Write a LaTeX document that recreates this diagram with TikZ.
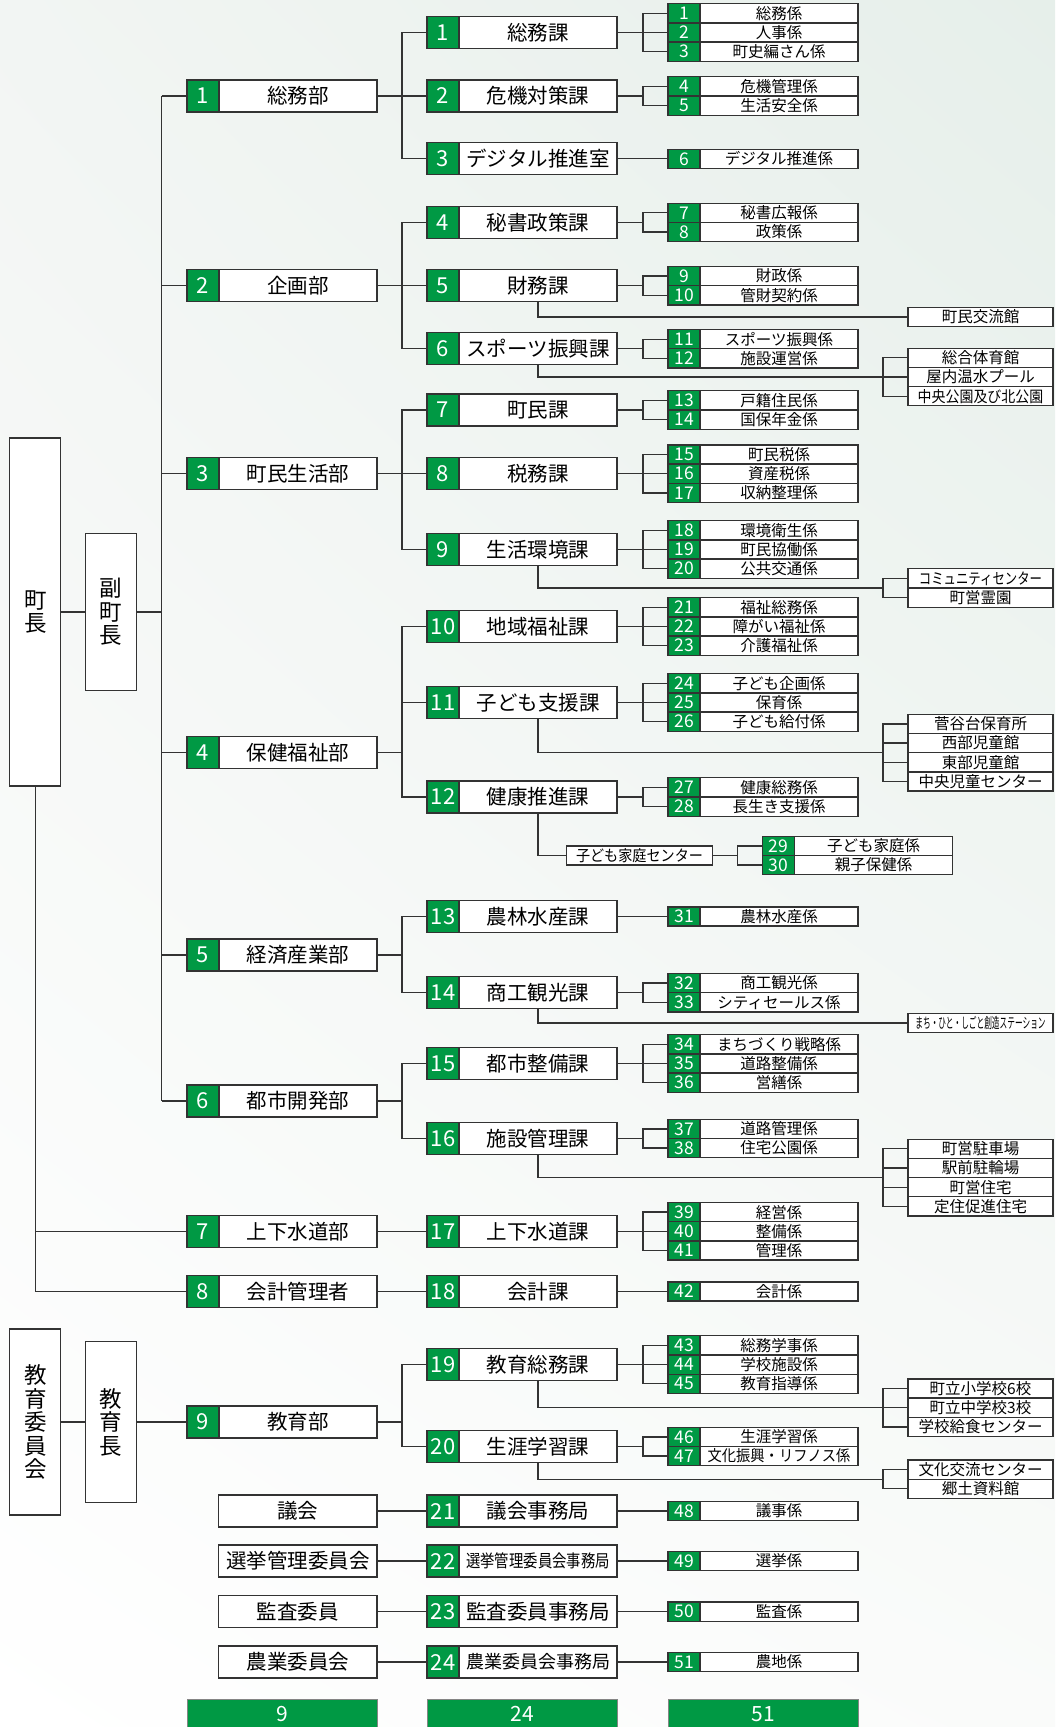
\documentclass[tikz,border=0pt]{standalone}
\usepackage{fontspec}
\setmainfont{Noto Sans CJK JP}
\usepackage{graphicx}
\usepackage{tikz}
\usetikzlibrary{positioning,shadings}
\definecolor{orggreen}{RGB}{0,153,68}
\definecolor{linegray}{RGB}{51,51,51}
\definecolor{bgtint}{RGB}{230,239,234}
\definecolor{bgsoft}{RGB}{242,245,243}
\definecolor{bglow}{RGB}{250,251,250}
\newcommand{\headfont}{\fontsize{22.5}{23.5}\selectfont}
\newcommand{\bigfont}{\fontsize{20.5}{22}\selectfont}
\newcommand{\bignumfont}{\fontsize{22}{24}\selectfont}
\newcommand{\smallfont}{\fontsize{15.5}{17}\selectfont}
\newcommand{\smallnumfont}{\fontsize{17.5}{18}\selectfont}
\newcommand{\totalfont}{\fontsize{21}{23}\selectfont}
\tikzset{
  linkline/.style = {draw=linegray, line width=1.3pt},
  headbox/.style  = {draw=linegray, fill=white, line width=1.3pt, minimum width=51pt,
                     inner sep=0pt, align=center, font=\headfont},
  numcell/.style  = {draw=linegray, fill=orggreen, text=white, line width=1.3pt,
                     anchor=west, inner sep=0pt, outer sep=0pt, minimum width=32pt},
  bignum/.style   = {numcell, minimum height=32pt, font=\bignumfont},
  smallnum/.style = {numcell, minimum height=19.2pt, font=\smallnumfont},
  lblcell/.style  = {draw=linegray, fill=white, line width=1.3pt, anchor=west,
                     inner sep=0pt, outer sep=0pt},
  biglbl/.style   = {lblcell, minimum width=158pt, minimum height=32pt, font=\bigfont},
  smalllbl/.style = {lblcell, minimum width=158pt, minimum height=19.2pt, font=\smallfont},
  annexbox/.style = {lblcell, minimum width=145pt, minimum height=19.2pt, font=\smallfont},
  totalbar/.style = {draw=linegray!60, fill=orggreen, text=white, line width=0.8pt,
                     minimum width=190pt, minimum height=30pt, inner sep=0pt, font=\totalfont}
}
\newcommand{\bigbox}[5]{%
  \node[bignum] (#1n) at (#2,#3) {#4};
  \node[biglbl, right=0pt of #1n] (#1) {#5};}
\newcommand{\secrow}[5]{%
  \node[smallnum] (#1n) at (#2,#3) {#4};
  \node[smalllbl, right=0pt of #1n] (#1) {#5};}

\begin{document}
\begin{tikzpicture}[x=1pt, y=-1pt]
  \useasboundingbox (0,0) rectangle (1055,1727);
  \shade[upper left=bgsoft, upper right=bgtint, lower left=white, lower right=bglow]
    (0,0) rectangle (1055,1727);
  % ---- bracket columns ----
  \coordinate (trunk) at (161.5,0);
  \coordinate (bxd)   at (402,0);
  \coordinate (bxs)   at (643,0);
  \coordinate (bxa)   at (883,0);
  \coordinate (bxk)   at (737.6,0);
  \coordinate (dropx) at (538,0);
  % ---- heads ----
  \node[headbox, minimum height=348pt]   (mayor)   at (35.3,612)  {町\\長};
  \node[headbox, minimum height=157pt]   (vmayor)  at (111.2,612) {副\\町\\長};
  \node[headbox, minimum height=186pt]   (edboard) at (35.3,1422) {教\\育\\委\\員\\会};
  \node[headbox, minimum height=160.5pt] (edchief) at (111.1,1422) {教\\育\\長};
  % ---- departments ----
  \bigbox{d1}{187}{96}{1}{総務部}
  \bigbox{d2}{187}{285.7}{2}{企画部}
  \bigbox{d3}{187}{473.7}{3}{町民生活部}
  \bigbox{d4}{187}{752.5}{4}{保健福祉部}
  \bigbox{d5}{187}{955}{5}{経済産業部}
  \bigbox{d6}{187}{1101}{6}{都市開発部}
  \bigbox{d7}{187}{1231.3}{7}{上下水道部}
  \bigbox{d8}{187}{1291.5}{8}{会計管理者}
  \bigbox{d9}{187}{1422}{9}{教育部}
  % ---- committees ----
  \node[lblcell, minimum width=158.3pt, minimum height=32pt, font=\bigfont] (c21) at (218.7,1511)   {議会};
  \node[lblcell, minimum width=158.3pt, minimum height=32pt, font=\bigfont] (c22) at (218.7,1561)   {選挙管理委員会};
  \node[lblcell, minimum width=158.3pt, minimum height=32pt, font=\bigfont] (c23) at (218.7,1611.6) {監査委員};
  \node[lblcell, minimum width=158.3pt, minimum height=32pt, font=\bigfont] (c24) at (218.7,1662)   {農業委員会};
  % ---- divisions ----
  \bigbox{v1}{427}{32.5}{1}{総務課}
  \bigbox{v2}{427}{96}{2}{危機対策課}
  \bigbox{v3}{427}{158.8}{3}{デジタル推進室}
  \bigbox{v4}{427}{222.4}{4}{秘書政策課}
  \bigbox{v5}{427}{285.7}{5}{財務課}
  \bigbox{v6}{427}{348.8}{6}{スポーツ振興課}
  \bigbox{v7}{427}{410}{7}{町民課}
  \bigbox{v8}{427}{473.7}{8}{税務課}
  \bigbox{v9}{427}{549.5}{9}{生活環境課}
  \bigbox{v10}{427}{626.5}{10}{地域福祉課}
  \bigbox{v11}{427}{702.5}{11}{子ども支援課}
  \bigbox{v12}{427}{797}{12}{健康推進課}
  \bigbox{v13}{427}{916.5}{13}{農林水産課}
  \bigbox{v14}{427}{992.7}{14}{商工観光課}
  \bigbox{v15}{427}{1063.5}{15}{都市整備課}
  \bigbox{v16}{427}{1138.5}{16}{施設管理課}
  \bigbox{v17}{427}{1231.3}{17}{上下水道課}
  \bigbox{v18}{427}{1291.5}{18}{会計課}
  \bigbox{v19}{427}{1364.6}{19}{教育総務課}
  \bigbox{v20}{427}{1446.5}{20}{生涯学習課}
  \bigbox{v21}{427}{1511}{21}{議会事務局}
  \bigbox{v22}{427}{1561}{22}{\fontsize{17.5}{19}\selectfont\scalebox{0.82}[1]{選挙管理委員会事務局}}
  \bigbox{v23}{427}{1611.6}{23}{監査委員事務局}
  \bigbox{v24}{427}{1662}{24}{\fontsize{18}{20}\selectfont 農業委員会事務局}
  % ---- sections ----
  \secrow{s1}{668}{13.3}{1}{総務係}
  \secrow{s2}{668}{32.5}{2}{人事係}
  \secrow{s3}{668}{51.7}{3}{町史編さん係}
  \secrow{s4}{668}{86.4}{4}{危機管理係}
  \secrow{s5}{668}{105.6}{5}{生活安全係}
  \secrow{s6}{668}{158.8}{6}{デジタル推進係}
  \secrow{s7}{668}{212.8}{7}{秘書広報係}
  \secrow{s8}{668}{232}{8}{政策係}
  \secrow{s9}{668}{276.1}{9}{財政係}
  \secrow{s10}{668}{295.3}{10}{管財契約係}
  \secrow{s11}{668}{339.2}{11}{スポーツ振興係}
  \secrow{s12}{668}{358.4}{12}{施設運営係}
  \secrow{s13}{668}{400.4}{13}{戸籍住民係}
  \secrow{s14}{668}{419.6}{14}{国保年金係}
  \secrow{s15}{668}{454.5}{15}{町民税係}
  \secrow{s16}{668}{473.7}{16}{資産税係}
  \secrow{s17}{668}{492.9}{17}{収納整理係}
  \secrow{s18}{668}{530.3}{18}{環境衛生係}
  \secrow{s19}{668}{549.5}{19}{町民協働係}
  \secrow{s20}{668}{568.7}{20}{公共交通係}
  \secrow{s21}{668}{607.3}{21}{福祉総務係}
  \secrow{s22}{668}{626.5}{22}{障がい福祉係}
  \secrow{s23}{668}{645.7}{23}{介護福祉係}
  \secrow{s24}{668}{683.3}{24}{子ども企画係}
  \secrow{s25}{668}{702.5}{25}{保育係}
  \secrow{s26}{668}{721.7}{26}{子ども給付係}
  \secrow{s27}{668}{787.4}{27}{健康総務係}
  \secrow{s28}{668}{806.6}{28}{長生き支援係}
  \secrow{s29}{762.7}{845.9}{29}{子ども家庭係}
  \secrow{s30}{762.7}{865.1}{30}{親子保健係}
  \secrow{s31}{668}{916.5}{31}{農林水産係}
  \secrow{s32}{668}{983.1}{32}{商工観光係}
  \secrow{s33}{668}{1002.3}{33}{シティセールス係}
  \secrow{s34}{668}{1044.3}{34}{まちづくり戦略係}
  \secrow{s35}{668}{1063.5}{35}{道路整備係}
  \secrow{s36}{668}{1082.7}{36}{営繕係}
  \secrow{s37}{668}{1128.9}{37}{道路管理係}
  \secrow{s38}{668}{1148.1}{38}{住宅公園係}
  \secrow{s39}{668}{1212.1}{39}{経営係}
  \secrow{s40}{668}{1231.3}{40}{整備係}
  \secrow{s41}{668}{1250.5}{41}{管理係}
  \secrow{s42}{668}{1291.5}{42}{会計係}
  \secrow{s43}{668}{1345.4}{43}{総務学事係}
  \secrow{s44}{668}{1364.6}{44}{学校施設係}
  \secrow{s45}{668}{1383.8}{45}{教育指導係}
  \secrow{s46}{668}{1436.9}{46}{生涯学習係}
  \secrow{s47}{668}{1456.1}{47}{\scalebox{0.92}[1]{文化振興・リフノス係}}
  \secrow{s48}{668}{1511}{48}{議事係}
  \secrow{s49}{668}{1561}{49}{選挙係}
  \secrow{s50}{668}{1611.6}{50}{監査係}
  \secrow{s51}{668}{1662}{51}{農地係}
  % ---- facilities ----
  \node[annexbox] (a5)  at (908,317)    {町民交流館};
  \node[annexbox] (a6a) at (908,357.8)  {総合体育館};
  \node[annexbox] (a6b) at (908,377)    {屋内温水プール};
  \node[annexbox] (a6c) at (908,396.2)  {\scalebox{0.9}[1]{中央公園及び北公園}};
  \node[annexbox] (a9a) at (908,578.4)  {\scalebox{0.8}[1]{コミュニティセンター}};
  \node[annexbox] (a9b) at (908,597.6)  {町営霊園};
  \node[annexbox] (a11a) at (908,723.9) {菅谷台保育所};
  \node[annexbox] (a11b) at (908,743.1) {西部児童館};
  \node[annexbox] (a11c) at (908,762.3) {東部児童館};
  \node[annexbox] (a11d) at (908,781.5) {中央児童センター};
  \node[annexbox, minimum width=146pt] (kc) at (566.5,855.5) {\scalebox{0.91}[1]{子ども家庭センター}};
  \node[annexbox] (a14) at (908,1023)   {\fontsize{14.5}{16}\selectfont\scalebox{0.53}[1]{まち・ひと・しごと創造ステーション}};
  \node[annexbox] (a16a) at (908,1148.8) {町営駐車場};
  \node[annexbox] (a16b) at (908,1168)   {駅前駐輪場};
  \node[annexbox] (a16c) at (908,1187.2) {町営住宅};
  \node[annexbox] (a16d) at (908,1206.4) {定住促進住宅};
  \node[annexbox] (a19a) at (908,1388.5) {町立小学校6校};
  \node[annexbox] (a19b) at (908,1407.7) {町立中学校3校};
  \node[annexbox] (a19c) at (908,1426.9) {学校給食センター};
  \node[annexbox] (a20a) at (908,1469.6) {文化交流センター};
  \node[annexbox] (a20b) at (908,1488.8) {郷土資料館};
  \coordinate (a6j)  at (883,377);
  \coordinate (a9j)  at (883,588);
  \coordinate (a11j) at (883,752.7);
  \coordinate (a16j) at (883,1177.6);
  \coordinate (a19j) at (883,1407.7);
  \coordinate (a20j) at (883,1479.2);
  % ---- totals ----
  \node[totalbar] (tot1) at (282,1714) {9};
  \node[totalbar] (tot2) at (522,1714) {24};
  \node[totalbar] (tot3) at (763,1714) {51};
  % ---- head links ----
  \draw[linkline] (mayor.east) -- (vmayor.west);
  \draw[linkline] (vmayor.east) -- (trunk |- vmayor.east);
  \draw[linkline] (trunk |- d1n.west) -- (trunk |- d6n.west);
  \foreach \c in {d1,d2,d3,d4,d5,d6} \draw[linkline] (trunk |- \c n.west) -- (\c n.west);
  \draw[linkline] (mayor.south) |- (d8n.west);
  \draw[linkline] (mayor.south |- d7n.west) -- (d7n.west);
  \draw[linkline] (edboard.east) -- (edchief.west);
  \draw[linkline] (edchief.east) -- (d9n.west);
  % ---- department to division ----
  \draw[linkline] (d1.east) -- (bxd |- d1.east);
  \foreach \c in {v1,v2,v3} \draw[linkline] (bxd |- d1.east) |- (\c n.west);
  \draw[linkline] (d2.east) -- (bxd |- d2.east);
  \foreach \c in {v4,v5,v6} \draw[linkline] (bxd |- d2.east) |- (\c n.west);
  \draw[linkline] (d3.east) -- (bxd |- d3.east);
  \foreach \c in {v7,v8,v9} \draw[linkline] (bxd |- d3.east) |- (\c n.west);
  \draw[linkline] (d4.east) -- (bxd |- d4.east);
  \foreach \c in {v10,v11,v12} \draw[linkline] (bxd |- d4.east) |- (\c n.west);
  \draw[linkline] (d5.east) -- (bxd |- d5.east);
  \foreach \c in {v13,v14} \draw[linkline] (bxd |- d5.east) |- (\c n.west);
  \draw[linkline] (d6.east) -- (bxd |- d6.east);
  \foreach \c in {v15,v16} \draw[linkline] (bxd |- d6.east) |- (\c n.west);
  \draw[linkline] (d7.east) -- (v17n.west);
  \draw[linkline] (d8.east) -- (v18n.west);
  \draw[linkline] (d9.east) -- (bxd |- d9.east);
  \foreach \c in {v19,v20} \draw[linkline] (bxd |- d9.east) |- (\c n.west);
  \draw[linkline] (c21.east) -- (v21n.west);
  \draw[linkline] (c22.east) -- (v22n.west);
  \draw[linkline] (c23.east) -- (v23n.west);
  \draw[linkline] (c24.east) -- (v24n.west);
  % ---- division to section ----
  \draw[linkline] (v1.east) -- (bxs |- v1.east);
  \foreach \c in {s1,s2,s3} \draw[linkline] (bxs |- v1.east) |- (\c n.west);
  \draw[linkline] (v2.east) -- (bxs |- v2.east);
  \foreach \c in {s4,s5} \draw[linkline] (bxs |- v2.east) |- (\c n.west);
  \draw[linkline] (v3.east) -- (s6n.west);
  \draw[linkline] (v4.east) -- (bxs |- v4.east);
  \foreach \c in {s7,s8} \draw[linkline] (bxs |- v4.east) |- (\c n.west);
  \draw[linkline] (v5.east) -- (bxs |- v5.east);
  \foreach \c in {s9,s10} \draw[linkline] (bxs |- v5.east) |- (\c n.west);
  \draw[linkline] (v6.east) -- (bxs |- v6.east);
  \foreach \c in {s11,s12} \draw[linkline] (bxs |- v6.east) |- (\c n.west);
  \draw[linkline] (v7.east) -- (bxs |- v7.east);
  \foreach \c in {s13,s14} \draw[linkline] (bxs |- v7.east) |- (\c n.west);
  \draw[linkline] (v8.east) -- (bxs |- v8.east);
  \foreach \c in {s15,s16,s17} \draw[linkline] (bxs |- v8.east) |- (\c n.west);
  \draw[linkline] (v9.east) -- (bxs |- v9.east);
  \foreach \c in {s18,s19,s20} \draw[linkline] (bxs |- v9.east) |- (\c n.west);
  \draw[linkline] (v10.east) -- (bxs |- v10.east);
  \foreach \c in {s21,s22,s23} \draw[linkline] (bxs |- v10.east) |- (\c n.west);
  \draw[linkline] (v11.east) -- (bxs |- v11.east);
  \foreach \c in {s24,s25,s26} \draw[linkline] (bxs |- v11.east) |- (\c n.west);
  \draw[linkline] (v12.east) -- (bxs |- v12.east);
  \foreach \c in {s27,s28} \draw[linkline] (bxs |- v12.east) |- (\c n.west);
  \draw[linkline] (v13.east) -- (s31n.west);
  \draw[linkline] (v14.east) -- (bxs |- v14.east);
  \foreach \c in {s32,s33} \draw[linkline] (bxs |- v14.east) |- (\c n.west);
  \draw[linkline] (v15.east) -- (bxs |- v15.east);
  \foreach \c in {s34,s35,s36} \draw[linkline] (bxs |- v15.east) |- (\c n.west);
  \draw[linkline] (v16.east) -- (bxs |- v16.east);
  \foreach \c in {s37,s38} \draw[linkline] (bxs |- v16.east) |- (\c n.west);
  \draw[linkline] (v17.east) -- (bxs |- v17.east);
  \foreach \c in {s39,s40,s41} \draw[linkline] (bxs |- v17.east) |- (\c n.west);
  \draw[linkline] (v18.east) -- (s42n.west);
  \draw[linkline] (v19.east) -- (bxs |- v19.east);
  \foreach \c in {s43,s44,s45} \draw[linkline] (bxs |- v19.east) |- (\c n.west);
  \draw[linkline] (v20.east) -- (bxs |- v20.east);
  \foreach \c in {s46,s47} \draw[linkline] (bxs |- v20.east) |- (\c n.west);
  \draw[linkline] (v21.east) -- (s48n.west);
  \draw[linkline] (v22.east) -- (s49n.west);
  \draw[linkline] (v23.east) -- (s50n.west);
  \draw[linkline] (v24.east) -- (s51n.west);
  % ---- division to facilities ----
  \draw[linkline] (dropx |- v5.south) |- (a5.west);
  \draw[linkline] (dropx |- v6.south) |- (a6j);
  \foreach \c in {a6a,a6b,a6c} \draw[linkline] (a6j) |- (\c.west);
  \draw[linkline] (dropx |- v9.south) |- (a9j);
  \foreach \c in {a9a,a9b} \draw[linkline] (a9j) |- (\c.west);
  \draw[linkline] (dropx |- v11.south) |- (a11j);
  \foreach \c in {a11a,a11b,a11c,a11d} \draw[linkline] (a11j) |- (\c.west);
  \draw[linkline] (dropx |- v12.south) |- (kc.west);
  \draw[linkline] (kc.east) -- (bxk |- kc.east);
  \foreach \c in {s29,s30} \draw[linkline] (bxk |- kc.east) |- (\c n.west);
  \draw[linkline] (dropx |- v14.south) |- (a14.west);
  \draw[linkline] (dropx |- v16.south) |- (a16j);
  \foreach \c in {a16a,a16b,a16c,a16d} \draw[linkline] (a16j) |- (\c.west);
  \draw[linkline] (dropx |- v19.south) |- (a19j);
  \foreach \c in {a19a,a19b,a19c} \draw[linkline] (a19j) |- (\c.west);
  \draw[linkline] (dropx |- v20.south) |- (a20j);
  \foreach \c in {a20a,a20b} \draw[linkline] (a20j) |- (\c.west);
\end{tikzpicture}
\end{document}
